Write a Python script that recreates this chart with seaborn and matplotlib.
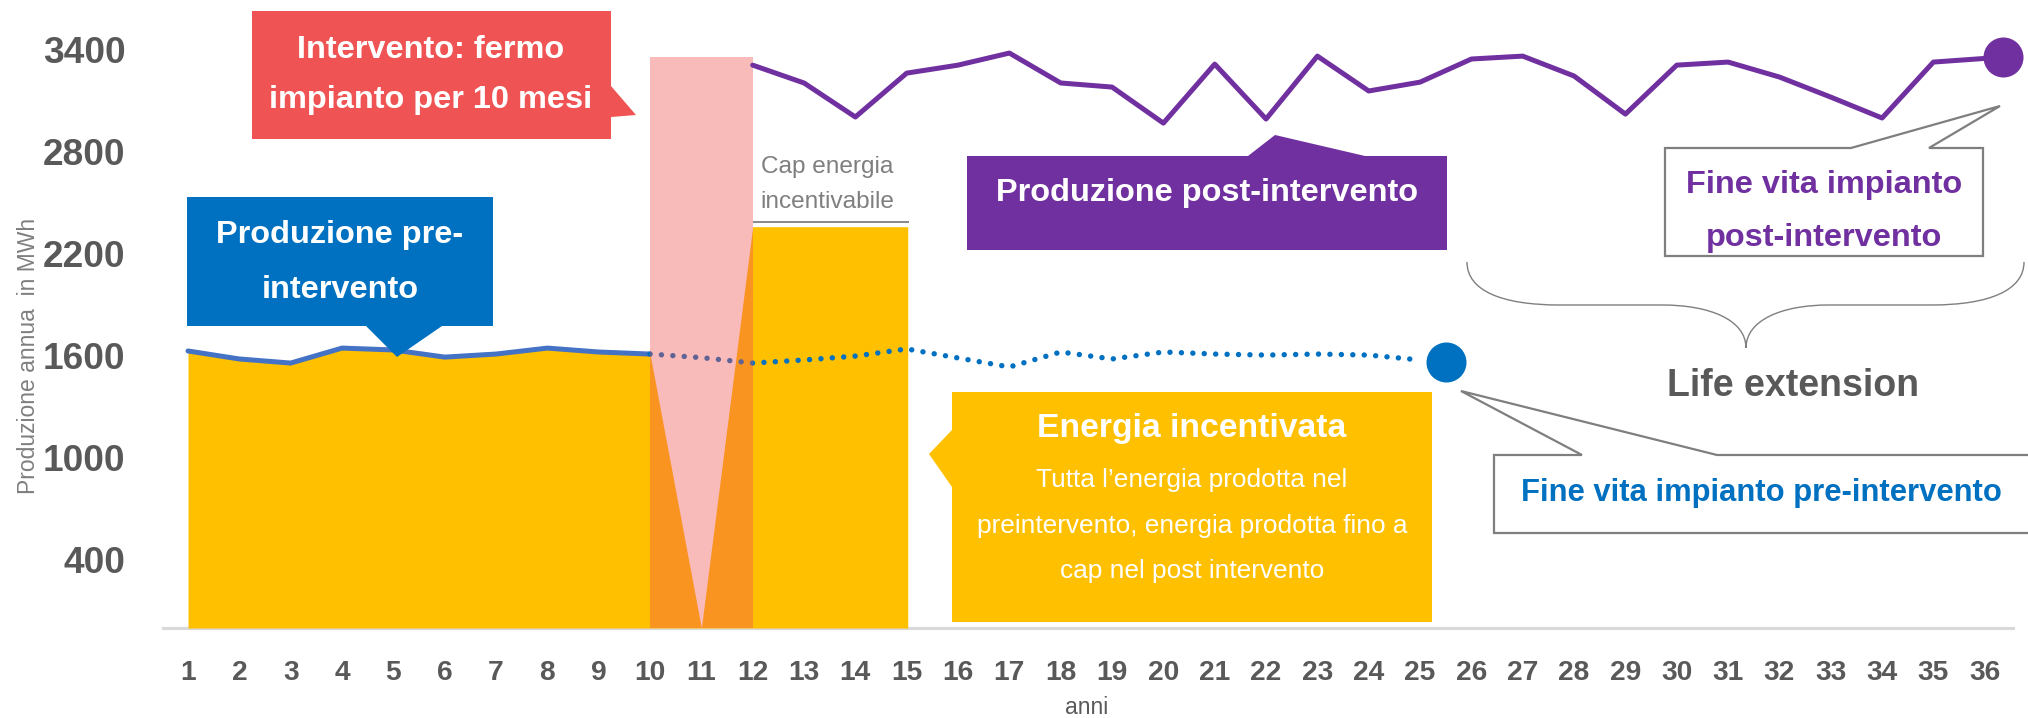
import matplotlib
matplotlib.use('Agg')
import matplotlib.pyplot as plt
import seaborn as sns
from matplotlib import font_manager
from matplotlib.patches import Polygon, PathPatch
from matplotlib.path import Path

# dati
anni_pre = [1, 2, 3, 4, 5, 6, 7, 8, 9, 10]
prod_pre = [1629, 1582, 1558, 1646, 1635, 1593, 1611, 1646, 1623, 1611]

anni_pre_teorica = [10, 11, 12, 13, 14, 15, 16, 17, 18, 19, 20, 21, 22, 23, 24, 25]
prod_pre_teorica = [1611, 1590, 1558, 1576, 1599, 1641, 1588, 1535, 1623, 1582,
                    1623, 1611, 1605, 1611, 1605, 1576]
fine_pre = (25.5, 1564)

anni_post = [12, 13, 14, 15, 16, 17, 18, 19, 20, 21, 22, 23, 24, 25, 26, 27, 28,
             29, 30, 31, 32, 33, 34, 35, 36.35]
prod_post = [3310, 3205, 3005, 3263, 3310, 3381, 3205, 3181, 2969, 3316, 2993, 3363,
             3158, 3210, 3346, 3363, 3246, 3022, 3310, 3328, 3240, 3122, 2999, 3328, 3357]

# energia incentivata: pre-intervento, fermo (anno 11), poi cap fino al 15
anni_incent = [1, 2, 3, 4, 5, 6, 7, 8, 9, 10, 11, 12, 13, 14, 15.02]
energia_incent = prod_pre + [0, 2360, 2360, 2360, 2360]
cap_anni = [12, 15.05]
cap_livello = 2390

fermo_centro = 11
fermo_durata = 2
fermo_altezza = 3358

anni_ticks = list(range(1, 37))
y_ticks = [400, 1000, 1600, 2200, 2800, 3400]

GIALLO = '#FFC000'
ROSSO = '#F05353'
BLU = '#0070C0'
BLU_LINEA = '#4472C4'
VIOLA = '#7030A0'
GRIGIO = '#595959'
GRIGIO2 = '#7F7F7F'

sns.set_theme(style='white')
# il grafico originale usa un font condensato
try:
    font_manager.findfont('Liberation Sans Narrow', fallback_to_default=False)
    NARROW = 'Liberation Sans Narrow'
    k = 1.0
    kb = 1.0
except ValueError:
    NARROW = 'Liberation Sans'
    k = 0.9
    kb = 0.86
plt.rcParams['font.family'] = ['Liberation Sans', 'DejaVu Sans']

W, H = 2028, 718
fig = plt.figure(figsize=(W / 100, H / 100), dpi=100)
ax = fig.add_axes([163 / W, 90 / H, (2013 - 163) / W, 628 / H])


def fx(px):
    return px / W


def fy(py):
    return 1 - py / H


# area gialla
ax.fill_between(anni_incent, 0, energia_incent, color=GIALLO, lw=0, zorder=1)
ax.hlines(cap_livello, cap_anni[0], cap_anni[1], color=GRIGIO2, lw=1.3, zorder=2)

# linee
sns.lineplot(x=anni_pre, y=prod_pre, ax=ax, color=BLU_LINEA, lw=3.6, zorder=3,
             solid_capstyle='round')
sns.lineplot(x=anni_pre_teorica, y=prod_pre_teorica, ax=ax, color=BLU, lw=3.9,
             linestyle=(0, (0.01, 2.1)), dash_capstyle='round', zorder=3)

# fermo impianto
ax.bar(fermo_centro, fermo_altezza, width=fermo_durata, color=ROSSO, alpha=0.4,
       lw=0, zorder=4)

sns.lineplot(x=anni_post, y=prod_post, ax=ax, color=VIOLA, lw=3.6, zorder=5)
ax.scatter([fine_pre[0]], [fine_pre[1]], s=830, color=BLU, zorder=6, lw=0, clip_on=False)
ax.scatter([anni_post[-1]], [prod_post[-1]], s=830, color=VIOLA, zorder=6, lw=0,
           clip_on=False)

ax.set_xlim(0.513, 36.55)
ax.set_ylim(0, 3693)
ax.set_xticks(anni_ticks)
ax.set_xticklabels([str(a) for a in anni_ticks], fontfamily=NARROW, fontweight='bold',
                   fontsize=22 * 0.92 if k < 1 else 22, color=GRIGIO)
ax.set_yticks(y_ticks)
ax.set_yticklabels([str(v) for v in y_ticks], fontfamily=NARROW, fontweight='bold',
                   fontsize=29 * 0.92 if k < 1 else 29, color=GRIGIO)
ax.tick_params(axis='x', length=0, pad=23)
ax.tick_params(axis='y', length=0, pad=27)
for s in ['top', 'right', 'left']:
    ax.spines[s].set_visible(False)
ax.spines['bottom'].set_color('#D9D9D9')
ax.spines['bottom'].set_linewidth(2.2)
ax.spines['bottom'].set_zorder(0.5)
ax.set_xlabel('')
ax.set_ylabel('')
ax.set_facecolor('none')

fig.text(fx(1087), fy(708), 'anni', ha='center', va='center', fontsize=16.5, color=GRIGIO)
fig.text(fx(29), fy(356), 'Produzione annua  in MWh', ha='center', va='center',
         rotation=90, fontsize=16.5, color=GRIGIO2)


def callout(pts, fc, ec='none', lw=0):
    p = Polygon([(fx(x), fy(y)) for x, y in pts], closed=True, transform=fig.transFigure,
                facecolor=fc, edgecolor=ec, lw=lw, joinstyle='miter', zorder=2)
    fig.add_artist(p)


def testo(righe, x, ys, size, color, bold=True, scala=None):
    for r, y in zip(righe, ys):
        fig.text(fx(x), fy(y), r, ha='center', va='center', fontsize=size * (scala or k),
                 color=color, fontweight='bold' if bold else 'normal',
                 fontfamily=NARROW, zorder=4)


# intervento
callout([(252, 11), (611, 11), (611, 86), (636, 115), (611, 117), (611, 139), (252, 139)], ROSSO)
testo(['Intervento: fermo', 'impianto per 10 mesi'], 431, [50, 100], 26, 'white')

# pre-intervento
callout([(187, 197), (493, 197), (493, 326), (442, 326), (397, 357), (366, 326), (187, 326)], BLU)
testo(['Produzione pre-', 'intervento'], 340, [235, 290], 26, 'white')

# post-intervento
callout([(967, 156), (1248, 156), (1275, 135), (1365, 156), (1447, 156), (1447, 250), (967, 250)], VIOLA)
testo(['Produzione post-intervento'], 1207, [193], 26, 'white')

# energia incentivata
callout([(952, 392), (1432, 392), (1432, 622), (952, 622), (952, 487), (929, 454), (952, 430)], GIALLO)
testo(['Energia incentivata'], 1192, [428], 27, 'white')
testo(['Tutta l\u2019energia prodotta nel', 'preintervento, energia prodotta fino a',
       'cap nel post intervento'], 1192, [480, 526, 571], 22, 'white', bold=False, scala=kb)

# fine vita pre
callout([(1494, 455), (1582, 455), (1461, 391), (1717, 455), (2030, 455), (2030, 533), (1494, 533)],
        'white', GRIGIO2, 1.6)
testo(['Fine vita impianto pre-intervento'], 1761, [493], 26, BLU, scala=kb)

# fine vita post
callout([(1665, 148), (1851, 148), (2000, 106), (1929, 148), (1983, 148), (1983, 256), (1665, 256)],
        'white', GRIGIO2, 1.6)
testo(['Fine vita impianto', 'post-intervento'], 1824, [185, 238], 26, VIOLA)

# cap
testo(['Cap energia', 'incentivabile'], 827, [167, 202], 19.5, GRIGIO2, bold=False)

# graffa life extension
pts = [(1467, 262), (1467, 290), (1500, 305), (1560, 305), (1662, 305),
       (1710, 305), (1746, 320), (1746, 348), (1746, 320), (1782, 305), (1829, 305),
       (1931, 305), (1990, 305), (2024, 290), (2024, 262)]
codes = [Path.MOVETO, Path.CURVE4, Path.CURVE4, Path.CURVE4, Path.LINETO,
         Path.CURVE4, Path.CURVE4, Path.CURVE4, Path.CURVE4, Path.CURVE4, Path.CURVE4,
         Path.LINETO, Path.CURVE4, Path.CURVE4, Path.CURVE4]
graffa = PathPatch(Path([(fx(x), fy(y)) for x, y in pts], codes), transform=fig.transFigure,
                   fill=False, edgecolor=GRIGIO2, lw=1.0)
fig.add_artist(graffa)
testo(['Life extension'], 1793, [386], 30, GRIGIO)

fig.savefig('out.png', dpi=100)
